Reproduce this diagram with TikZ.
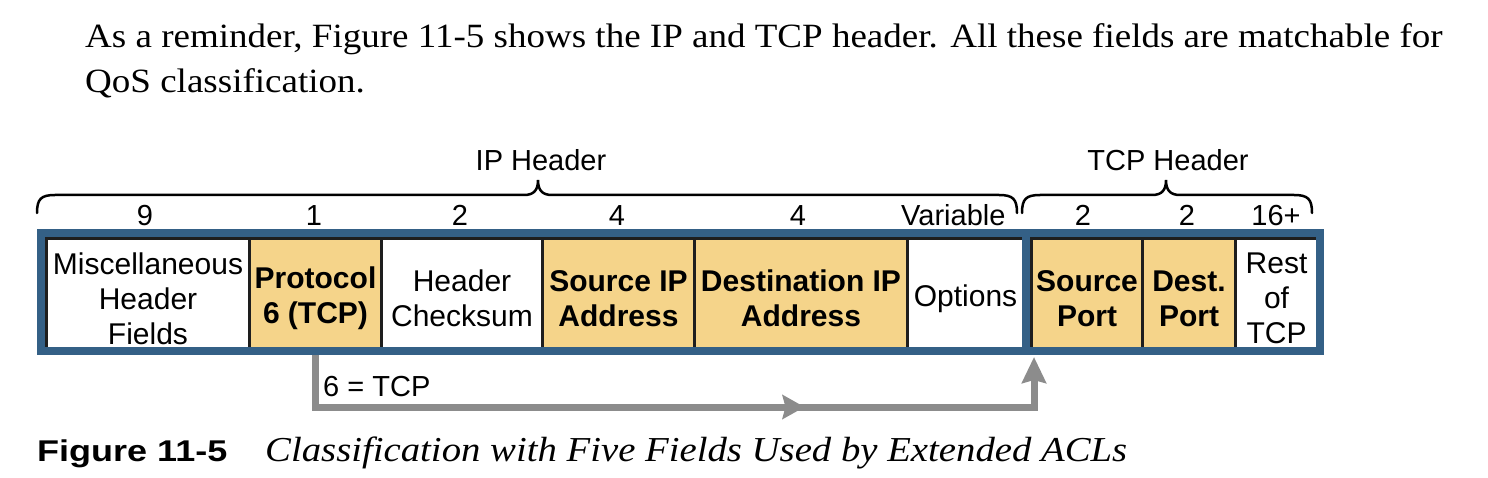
\documentclass[tikz,border=0pt]{standalone}
\usepackage{fontspec}
\setmainfont{Liberation Serif}
\setsansfont{Liberation Sans}
\usetikzlibrary{arrows.meta,decorations.markings}
\definecolor{bord}{RGB}{52,96,134}
\definecolor{hlfill}{RGB}{245,212,138}
\definecolor{arrc}{RGB}{140,140,140}
\definecolor{divc}{RGB}{30,30,30}
\begin{document}
\begin{tikzpicture}[x=1pt,y=-1pt,
  cellbase/.style={draw=divc, line width=3pt, minimum height=110pt, inner sep=0pt,
    anchor=north west},
  plaintext/.style={align=center, yshift=-5pt, inner sep=0pt, font=\fontsize{30}{35}\selectfont\sffamily},
  boldtext/.style={align=center, yshift=-5pt, inner sep=0pt, font=\fontsize{30}{35}\selectfont\sffamily\bfseries},
  plaincell/.style={cellbase, fill=white},
  hlcell/.style={cellbase, fill=hlfill},
  numlbl/.style={anchor=base, font=\fontsize{29}{35}\selectfont\sffamily},
  hdrlbl/.style={anchor=base, font=\fontsize{29}{35}\selectfont\sffamily},
  frame/.style={draw=bord, line width=8pt},
  bracepath/.style={draw=black, line width=2.5pt, line cap=round},
  flowarrow/.style={draw=arrc, line width=7pt,
    -{Stealth[length=26pt, width=24pt, inset=3pt]},
    postaction={decorate, decoration={markings,
      mark=at position 546pt with {\arrow{Stealth[length=22pt, width=24pt, inset=3pt, color=arrc]}}}}},
]
\useasboundingbox (0,0) rectangle (1488,478);

% paragraph
\node[anchor=base west, inner sep=0pt, font=\fontsize{34}{44}\selectfont] (para1) at (85,48)
  {\scalebox{1.089}[1]{As a reminder, Figure 11-5 shows the IP and TCP header. All these fields are matchable for}};
\node[anchor=base west, inner sep=0pt, font=\fontsize{34}{44}\selectfont] (para2) at (85,93)
  {\scalebox{1.089}[1]{QoS classification.}};

% cells
\node[plaincell, minimum width=203pt, label={[plaintext]center:Miscellaneous\\Header\\Fields}] (misc) at (45,237) {};
\node[hlcell, minimum width=132pt, label={[boldtext]center:Protocol\\6 (TCP)}] (proto) at (248,237) {};
\node[plaincell, minimum width=161pt, label={[plaintext]center:Header\\Checksum}] (chk) at (380,237) {};
\node[hlcell, minimum width=152pt, label={[boldtext]center:Source IP\\Address}] (sip) at (541,237) {};
\node[hlcell, minimum width=213pt, label={[boldtext]center:Destination IP\\Address}] (dip) at (693,237) {};
\node[plaincell, minimum width=116pt, label={[plaintext]center:Options}] (opt) at (906,237) {};
\node[hlcell, minimum width=111pt, label={[boldtext]center:Source\\Port}] (sport) at (1030,237) {};
\node[hlcell, minimum width=93pt, label={[boldtext]center:Dest.\\Port}] (dport) at (1141,237) {};
\node[plaincell, minimum width=82pt, label={[plaintext]center:Rest\\of\\TCP}] (rest) at (1234,237) {};

% arrow
\coordinate (tip) at (1034,357);
\draw[flowarrow] (proto.south) -- (proto.south |- 0,407) -- (tip |- 0,407) -- (tip);
\node[anchor=base west, inner sep=0pt, font=\fontsize{29}{35}\selectfont\sffamily] (eq) at (323,396) {6 = TCP};

% frames
\draw[frame] (41,233) rectangle (1026,350.5);
\draw[frame] (1026,233) rectangle (1319.5,350.5);

% sizes
\node[numlbl] (n1) at (145,226) {9};
\node[numlbl] (n2) at (314,226) {1};
\node[numlbl] (n3) at (460,226) {2};
\node[numlbl] (n4) at (617,226) {4};
\node[numlbl] (n5) at (798,226) {4};
\node[numlbl, anchor=base east] (n6) at (1009,226) {Variable};
\node[numlbl] (n7) at (1083,226) {2};
\node[numlbl] (n8) at (1187,226) {2};
\node[numlbl] (n9) at (1276,226) {16+};

% braces
\coordinate (ipL) at (37,213);
\coordinate (ipT) at (538,180);
\coordinate (ipR) at (1017,213);
\coordinate (tcpL) at (1022,213);
\coordinate (tcpT) at (1166,180);
\coordinate (tcpR) at (1312,213);
\draw[bracepath] (ipL) .. controls (37,199) and (41,195) .. (55,195) -- (524,195)
  .. controls (534,195) and (538,190) .. (ipT)
  .. controls (538,190) and (542,195) .. (552,195) -- (999,195)
  .. controls (1013,195) and (1017,199) .. (ipR);
\draw[bracepath] (tcpL) .. controls (1022,199) and (1026,195) .. (1040,195) -- (1152,195)
  .. controls (1162,195) and (1166,190) .. (tcpT)
  .. controls (1166,190) and (1170,195) .. (1180,195) -- (1294,195)
  .. controls (1308,195) and (1312,199) .. (tcpR);
\node[hdrlbl] (iph) at (541,171) {IP Header};
\node[hdrlbl] (tcph) at (1168,171) {TCP Header};

% caption
\node[anchor=base west, inner sep=0pt, font=\fontsize{30}{30}\selectfont\sffamily\bfseries] (figlbl) at (37,461)
  {\scalebox{1.2}[1]{Figure 11-5}};
\node[anchor=base west, inner sep=0pt, font=\fontsize{35}{35}\selectfont\itshape] (figcap) at (265,461)
  {\scalebox{1.107}[1]{Classification with Five Fields Used by Extended ACLs}};
\end{tikzpicture}
\end{document}
